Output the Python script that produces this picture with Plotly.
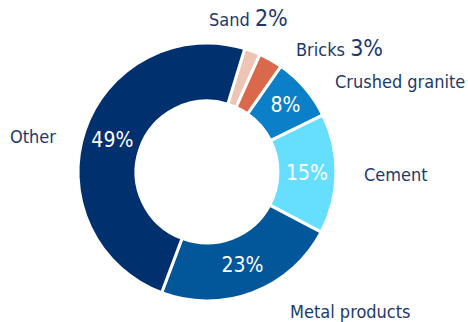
import plotly.graph_objects as go

materials = ["Sand", "Bricks", "Crushed granite", "Cement", "Metal products", "Other"]
shares = [2, 3, 8, 15, 23, 49]
colours = ["#EEC4B4", "#D9694A", "#0B7FC7", "#66DFFF", "#02569A", "#00306E"]
inside = ["none", "none", "inside", "inside", "inside", "inside"]

W, H = 468, 322
cx, cy, r = 207, 172, 129
FONT = "DejaVu Sans Condensed, DejaVu Sans"
NAVY = "#1B3A6B"

fig = go.Figure(go.Pie(
    labels=materials, values=shares, sort=False, direction="clockwise",
    rotation=17, hole=0.55,
    marker=dict(colors=colours, line=dict(color="white", width=3)),
    texttemplate="%{value}%", textposition=inside,
    insidetextorientation="horizontal",
    textfont=dict(family=FONT, size=21, color="white"),
    domain=dict(x=[(cx - r) / W, (cx + r) / W],
                y=[(H - cy - r) / H, (H - cy + r) / H]),
    showlegend=False, hoverinfo="label+percent",
))

# label text: name (and % for the tiny slices) placed outside the ring
big = "<span style='font-size:23px'>%d%%</span>"
notes = [
    ("Sand " + big % shares[0], 207, 18, "left"),
    ("Bricks " + big % shares[1], 294, 48, "left"),
    ("Crushed granite", 333, 82, "left"),
    ("Cement", 362, 174, "left"),
    ("Other", 58, 136, "right"),
    ("Metal products", 288, 311, "left"),
]
for txt, px_, py_, anc in notes:
    fig.add_annotation(text=txt, x=px_ / W, y=1 - py_ / H, xref="paper", yref="paper",
                       xanchor=anc, yanchor="middle", showarrow=False,
                       font=dict(family=FONT, size=18, color=NAVY))

fig.update_layout(width=W, height=H, margin=dict(l=0, r=0, t=0, b=0),
                  paper_bgcolor="white", plot_bgcolor="white")
fig.write_html("out.html", config={"displayModeBar": False},
               post_script="document.body.style.margin='0';")
